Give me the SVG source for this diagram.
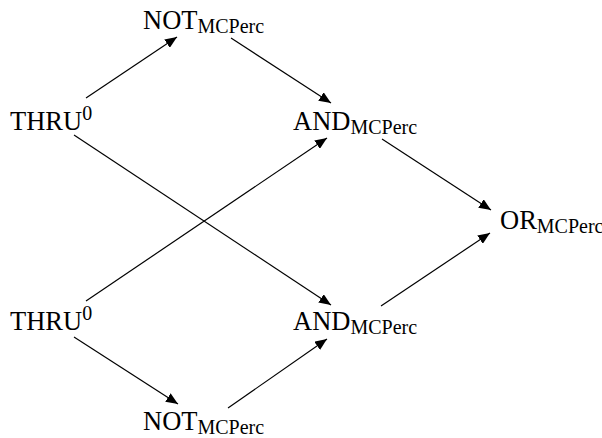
<svg xmlns="http://www.w3.org/2000/svg" width="602" height="438" viewBox="0 0 602 438">
<style>
text{font-family:"Liberation Serif","Times New Roman",serif;font-size:26.5px;fill:#000}
.s{font-size:20px}
line{stroke:#000;stroke-width:1.2}
</style>
<defs>
<marker id="a" viewBox="0 0 12 10" refX="12" refY="5" markerWidth="12" markerHeight="10" markerUnits="userSpaceOnUse" orient="auto">
<path d="M0,0L12,5L0,10z" fill="#000"/>
</marker>
</defs>
<rect width="602" height="438" fill="#fff"/>
<g id="connectors">
<line x1="86" y1="98" x2="177" y2="37" marker-end="url(#a)"/>
<line x1="231" y1="38" x2="331" y2="103" marker-end="url(#a)"/>
<line x1="74" y1="135" x2="331" y2="305" marker-end="url(#a)"/>
<line x1="86" y1="301" x2="327" y2="138" marker-end="url(#a)"/>
<line x1="382" y1="139" x2="491" y2="210" marker-end="url(#a)"/>
<line x1="381" y1="306" x2="490" y2="233" marker-end="url(#a)"/>
<line x1="74" y1="337" x2="178" y2="404" marker-end="url(#a)"/>
<line x1="228" y1="408" x2="327" y2="339" marker-end="url(#a)"/>
</g>
<g id="not1"><text x="143" y="29">NOT<tspan class="s" dy="4">MCPerc</tspan></text></g>
<g id="thru1"><text x="10" y="130">THRU<tspan class="s" dy="-10">0</tspan></text></g>
<g id="and1"><text x="293" y="130">AND<tspan class="s" dy="4">MCPerc</tspan></text></g>
<g id="or"><text x="500" y="229">OR<tspan class="s" dy="4">MCPerc</tspan></text></g>
<g id="thru2"><text x="10" y="330">THRU<tspan class="s" dy="-10">0</tspan></text></g>
<g id="and2"><text x="293" y="330">AND<tspan class="s" dy="4">MCPerc</tspan></text></g>
<g id="not2"><text x="143" y="430">NOT<tspan class="s" dy="4">MCPerc</tspan></text></g>
</svg>
